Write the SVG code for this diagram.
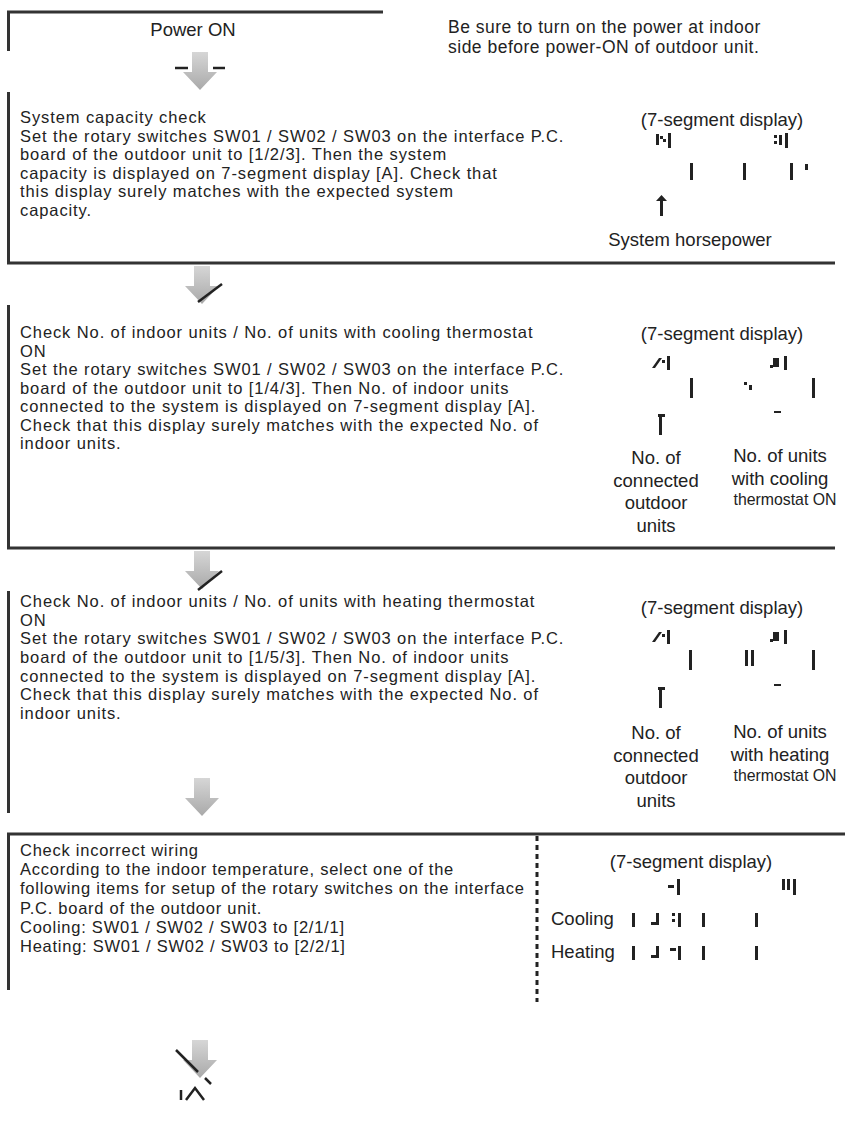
<svg xmlns="http://www.w3.org/2000/svg" width="845" height="1126" viewBox="0 0 845 1126">
<defs>
<style>
text{font-family:"Liberation Sans",Arial,sans-serif;fill:#222;}
.t{font-size:16.5px;letter-spacing:0.9px;}
.w{letter-spacing:0.75px;}
.h{font-size:17.5px;letter-spacing:0.5px;}
.s{font-size:18.5px;}
.n{font-size:17px;}
.c{text-anchor:middle;}
.bar{fill:#333;}
.rule{stroke:#333;stroke-width:3;fill:none;}
.seg{fill:#222;}
.ar{fill:url(#g);}
.blk{stroke:#222;stroke-width:2.5;fill:none;}
</style>
<linearGradient id="g" x1="0" y1="0" x2="0" y2="1">
<stop offset="0" stop-color="#d6d6d6"/>
<stop offset="1" stop-color="#a9a9a9"/>
</linearGradient>
<path id="arrow" d="M-8,0 H8 V20 H17 L0,38 L-17,20 H-8 Z"/>
</defs>

<g id="connectors">
<use href="#arrow" class="ar" x="200" y="52"/>
<line class="blk" x1="175" y1="68" x2="188" y2="68"/>
<line class="blk" x1="213" y1="68" x2="225" y2="68"/>
<use href="#arrow" class="ar" x="202" y="266"/>
<line class="blk" x1="198" y1="302" x2="222" y2="284"/>
<use href="#arrow" class="ar" x="202" y="551"/>
<line class="blk" x1="198" y1="590" x2="222" y2="571"/>
<use href="#arrow" class="ar" x="202" y="778"/>
<use href="#arrow" class="ar" x="200" y="1040"/>
<line class="blk" x1="176" y1="1050" x2="198" y2="1072"/>
<line class="blk" x1="205" y1="1078" x2="211" y2="1084"/>
<path class="blk" d="M181,1100 V1090 M186,1100 L195,1088 L204,1100"/>
</g>

<g id="node-power">
<line class="rule" x1="7" y1="12" x2="383" y2="12"/>
<rect class="bar" x="7" y="11" width="3" height="40"/>
<text class="s c" x="193" y="36">Power ON</text>
<text class="h" x="448" y="33">Be sure to turn on the power at indoor</text>
<text class="h" x="448" y="53">side before power-ON of outdoor unit.</text>
</g>

<g id="node-capacity">
<rect class="bar" x="7" y="92" width="3" height="172"/>
<text class="t" x="20" y="123">System capacity check</text>
<text class="t" x="20" y="141.6">Set the rotary switches SW01 / SW02 / SW03 on the interface P.C.</text>
<text class="t" x="20" y="160.2">board of the outdoor unit to [1/2/3]. Then the system</text>
<text class="t" x="20" y="178.8">capacity is displayed on 7-segment display [A]. Check that</text>
<text class="t" x="20" y="197.4">this display surely matches with the expected system</text>
<text class="t" x="20" y="216">capacity.</text>
<text class="s c" x="722" y="126">(7-segment display)</text>
<path class="seg" d="M656,134 h3 v11 h-3z M660,136 h3 v3 h-3z M663,139 h3 v3 h-3z M668,133 h3 v15 h-3z M774,135 h3 v3 h-3z M774,141 h3 v3 h-3z M779,135 h3 v10 h-3z M785,133 h3 v15 h-3z M690,163 h3 v17 h-3z M743,163 h3 v17 h-3z M790,163 h3 v17 h-3z M805,164 h3 v6 h-3z"/>
<path class="seg" d="M660,198 h3 v18 h-3z M656,201 l5.5,-6 l5.5,6z"/>
<text class="s c" x="690" y="246">System horsepower</text>
</g>
<line class="rule" x1="7" y1="263" x2="835" y2="263"/>

<g id="node-cooling">
<rect class="bar" x="7" y="305" width="3" height="243"/>
<text class="t" x="20" y="338">Check No. of indoor units / No. of units with cooling thermostat</text>
<text class="t" x="20" y="356.5">ON</text>
<text class="t" x="20" y="375">Set the rotary switches SW01 / SW02 / SW03 on the interface P.C.</text>
<text class="t" x="20" y="393.5">board of the outdoor unit to [1/4/3]. Then No. of indoor units</text>
<text class="t" x="20" y="412">connected to the system is displayed on 7-segment display [A].</text>
<text class="t" x="20" y="430.5">Check that this display surely matches with the expected No. of</text>
<text class="t" x="20" y="449">indoor units.</text>
<text class="s c" x="722" y="340">(7-segment display)</text>
<path class="seg" d="M652,368 l7,-10 h3 l-7,10z M662,360 h3 v3 h-3z M667,356 h3 v14 h-3z M690,378 h3 v20 h-3z M770,365 h3 v3 h-3z M773,358 h6 v9 h-6z M784,356 h3 v14 h-3z M744,382 h3 v3 h-3z M749,385 h3 v5 h-3z M812,378 h3 v20 h-3z M774,411 h7 v2 h-7z M658,414 h7 v3 h-7z M659,417 h3 v18 h-3z"/>
<text class="s c" x="656" y="464">No. of</text>
<text class="s c" x="656" y="487">connected</text>
<text class="s c" x="656" y="509">outdoor</text>
<text class="s c" x="656" y="532">units</text>
<text class="s c" x="780" y="462">No. of  units</text>
<text class="s c" x="780" y="485">with cooling</text>
<text class="n c" x="785" y="505" textLength="103" lengthAdjust="spacingAndGlyphs">thermostat ON</text>
</g>
<line class="rule" x1="7" y1="548" x2="835" y2="548"/>

<g id="node-heating">
<rect class="bar" x="7" y="591" width="3" height="222"/>
<text class="t" x="20" y="607">Check No. of indoor units / No. of units with heating thermostat</text>
<text class="t" x="20" y="625.7">ON</text>
<text class="t" x="20" y="644.3">Set the rotary switches SW01 / SW02 / SW03 on the interface P.C.</text>
<text class="t" x="20" y="663">board of the outdoor unit to [1/5/3]. Then No. of indoor units</text>
<text class="t" x="20" y="681.7">connected to the system is displayed on 7-segment display [A].</text>
<text class="t" x="20" y="700.3">Check that this display surely matches with the expected No. of</text>
<text class="t" x="20" y="719">indoor units.</text>
<text class="s c" x="722" y="614">(7-segment display)</text>
<path class="seg" d="M652,642 l7,-10 h3 l-7,10z M662,634 h3 v3 h-3z M667,630 h3 v14 h-3z M689,650 h3 v20 h-3z M770,639 h3 v3 h-3z M773,632 h6 v9 h-6z M784,630 h3 v14 h-3z M745,650 h3 v16 h-3z M751,650 h3 v16 h-3z M812,650 h3 v20 h-3z M774,684 h7 v2 h-7z M658,687 h7 v3 h-7z M659,690 h3 v18 h-3z"/>
<text class="s c" x="656" y="739">No. of</text>
<text class="s c" x="656" y="762">connected</text>
<text class="s c" x="656" y="784">outdoor</text>
<text class="s c" x="656" y="807">units</text>
<text class="s c" x="780" y="738">No. of  units</text>
<text class="s c" x="780" y="761">with heating</text>
<text class="n c" x="785" y="781" textLength="103" lengthAdjust="spacingAndGlyphs">thermostat ON</text>
</g>
<line class="rule" x1="7" y1="834" x2="845" y2="834"/>

<g id="node-wiring">
<rect class="bar" x="7" y="834" width="3" height="156"/>
<text class="t w" x="20" y="856">Check incorrect wiring</text>
<text class="t w" x="20" y="875.2">According to the indoor temperature, select one of the</text>
<text class="t w" x="20" y="894.4">following items for setup of the rotary switches on the interface</text>
<text class="t w" x="20" y="913.6">P.C. board of the outdoor unit.</text>
<text class="t w" x="20" y="932.8">Cooling: SW01 / SW02 / SW03 to [2/1/1]</text>
<text class="t w" x="20" y="952">Heating: SW01 / SW02 / SW03 to [2/2/1]</text>
<line x1="537" y1="836" x2="537" y2="1002" stroke="#222" stroke-width="3" stroke-dasharray="5,4"/>
<text class="s c" x="691" y="868">(7-segment display)</text>
<path class="seg" d="M668,885 h6 v3 h-6z M677,879 h3 v16 h-3z M782,879 h3 v11 h-3z M787,879 h3 v11 h-3z M793,879 h3 v16 h-3z"/>
<text class="s" x="551" y="925">Cooling</text>
<path class="seg" d="M632,913 h3 v14 h-3z M656,913 h3 v9 h-3z M651,922 h8 v3 h-8z M672,913 h3 v3 h-3z M672,919 h3 v3 h-3z M678,913 h3 v14 h-3z M702,913 h3 v14 h-3z M755,913 h3 v14 h-3z"/>
<text class="s" x="551" y="958">Heating</text>
<path class="seg" d="M632,946 h3 v14 h-3z M656,946 h3 v9 h-3z M651,955 h8 v3 h-8z M670,948 h6 v3 h-6z M678,946 h3 v14 h-3z M702,946 h3 v14 h-3z M755,946 h3 v14 h-3z"/>
</g>
</svg>
